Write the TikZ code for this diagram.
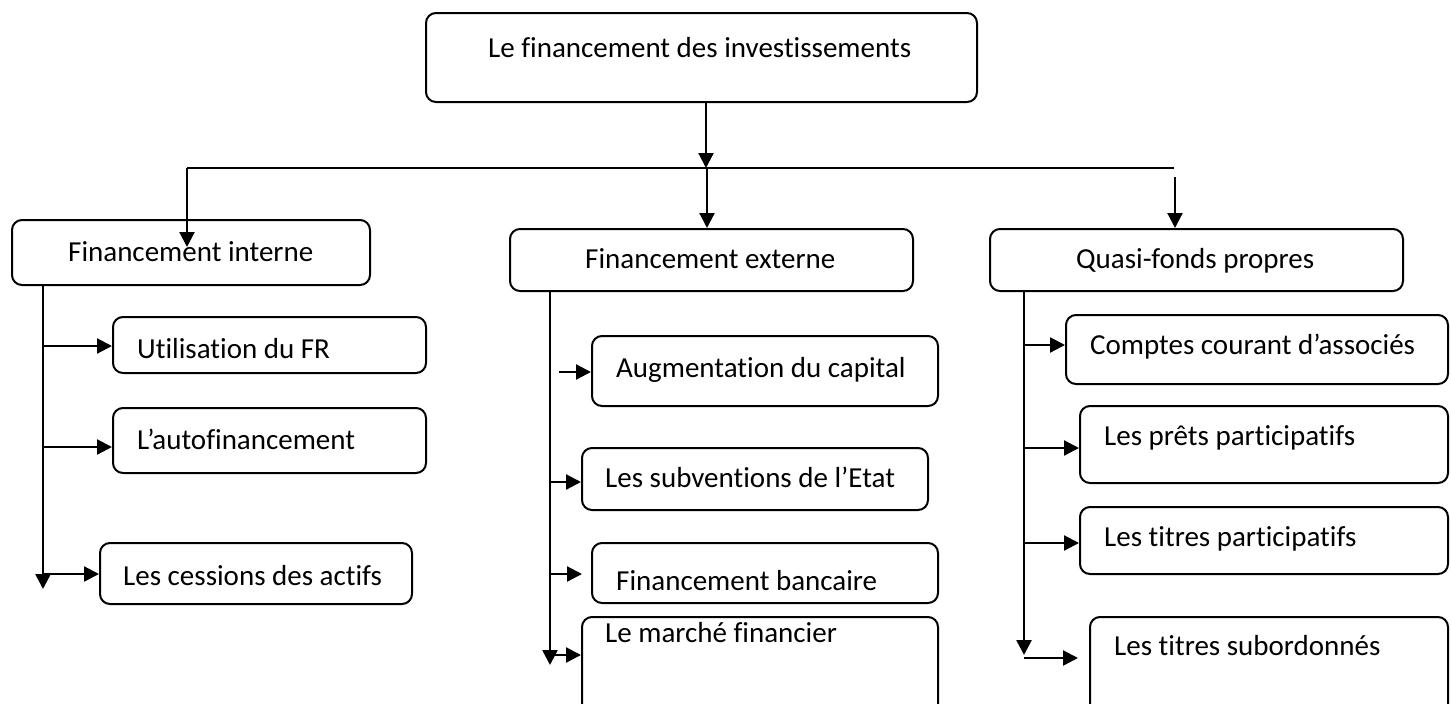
\documentclass[tikz,border=0pt]{standalone}
\usepackage{fontspec}
\setmainfont{Carlito}[Ligatures=NoCommon]
\usetikzlibrary{arrows.meta}

\tikzset{
  boite/.style={draw, line width=2pt, rounded corners=10pt, inner sep=0pt, fill=white},
  libelle/.style={anchor=base west, inner sep=0pt, font=\fontsize{29}{34}\selectfont},
  ln/.style={line width=2.2pt},
  arr/.style={line width=2.2pt, -{Triangle[length=15pt,width=15pt]}},
  trunk/.style={arr, line width=2.6pt}
}

% \boite{name}{x1}{y1}{x2}{y2}{text x}{text baseline}{text}
\newcommand\boite[8]{%
  \node[boite, minimum width={#4pt-#2pt}, minimum height={#5pt-#3pt}]
    (#1) at ({(#2+#4)/2},{(#3+#5)/2}) {};
  \node[libelle] (#1-t) at (#6,#7) {#8};
}

\begin{document}
\begin{tikzpicture}[x=1pt, y=-1pt]
\useasboundingbox[fill=white] (0,0) rectangle (1451,704);

% root
\boite{root}{426}{13}{977}{102}{488}{57}{Le financement des investissements}

% three families
\boite{fi}{12}{220}{370}{285}{68}{261}{Financement interne}
\boite{fe}{510}{229}{913}{291}{585}{268}{Financement externe}
\boite{qf}{990}{229}{1403}{291}{1076}{268}{Quasi-fonds propres}

% internal financing
\boite{utfr}{113}{317}{426}{373}{137}{358}{Utilisation du FR}
\boite{auto}{113}{408}{426}{473}{137}{449}{L’autofinancement}
\boite{cess}{100}{543}{412}{604}{123}{585}{Les cessions des actifs}

% external financing
\boite{augm}{592}{336}{938}{406}{616}{377}{Augmentation du capital}
\boite{subv}{582}{448}{928}{510}{605}{487}{Les subventions de l’Etat}
\boite{banc}{592}{543}{938}{603}{616}{590}{Financement bancaire}
\boite{marche}{582}{617}{938}{740}{605}{642}{Le marché financier}

% quasi-equity
\boite{cca}{1066}{315}{1448}{384}{1090}{354}{Comptes courant d’associés}
\boite{prets}{1080}{406}{1448}{483}{1104}{445}{Les prêts participatifs}
\boite{titp}{1080}{507}{1448}{574}{1104}{546}{Les titres participatifs}
\boite{tits}{1090}{617}{1448}{740}{1114}{655}{Les titres subordonnés}

% distribution bar
\coordinate (barL) at (187,168);
\coordinate (barR) at (1174,168);
\coordinate (barM) at (706,168);
\draw[arr] (root.south -| barM) -- (barM);
\draw[ln] (barL) -- (barR);
\draw[arr] (barL) -- (187,247);
\draw[arr] (707,168) -- (fe.north -| 707,0);
\draw[arr] (1175,177) -- (qf.north -| 1175,0);

% internal branch
\draw[trunk] (fi.south -| 43,0) -- (43,589);
\draw[arr] (43,346) -- (utfr.west |- 0,346);
\draw[arr] (43,447) -- (auto.west |- 0,447);
\draw[arr] (43,574) -- (cess.west |- 0,574);

% external branch
\draw[trunk] (fe.south -| 550,0) -- (550,665);
\draw[arr] (559,372) -- (augm.west |- 0,372);
\draw[arr] (550,482) -- (subv.west |- 0,482);
\coordinate (bancIn) at (582,574);
\draw[arr] (550,574) -- (bancIn);
\draw[arr] (550,655) -- (marche.west |- 0,655);

% quasi-equity branch
\draw[trunk] (qf.south -| 1024,0) -- (1024,655);
\draw[arr] (1024,345) -- (cca.west |- 0,345);
\draw[arr] (1024,448) -- (prets.west |- 0,448);
\draw[arr] (1024,543) -- (titp.west |- 0,543);
\coordinate (titsIn) at (1078,658);
\draw[arr] (1024,658) -- (titsIn);
\end{tikzpicture}
\end{document}
